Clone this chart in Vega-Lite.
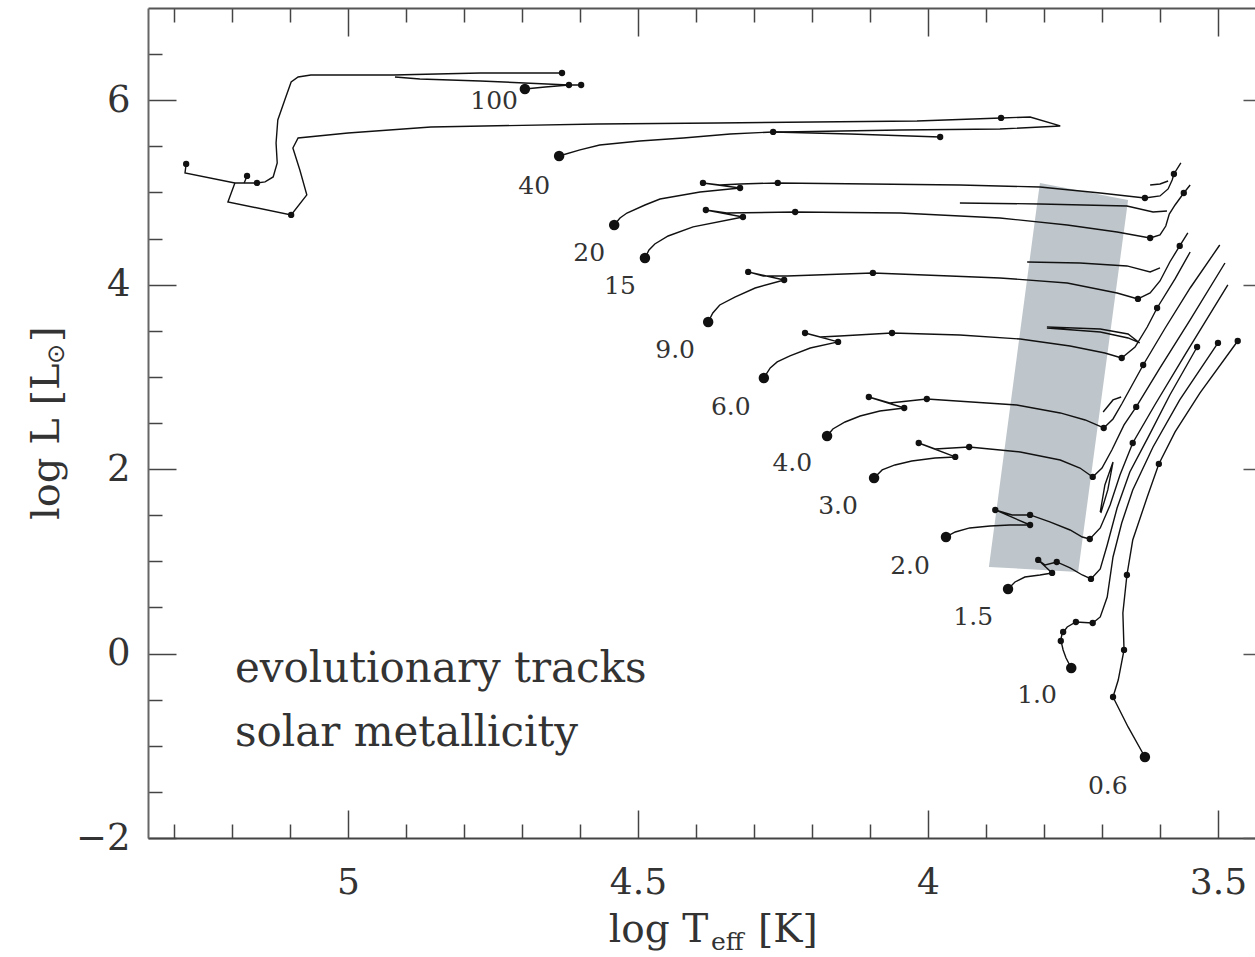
{
"$schema":"https://vega.github.io/schema/vega-lite/v6.json",
"width":1107,"height":830,
"autosize":{"type":"none"},
"padding":{"left":148,"top":8,"right":0,"bottom":119},
"background":"white",
"config":{"view":{"stroke":null},"axis":{"grid":false}},
"datasets":{
"band":[{"y":5.103,"xl":3.807,"xr":3.807},{"y":4.918,"xl":3.811,"xr":3.655},{"y":0.939,"xl":3.895,"xr":3.74},{"y":0.884,"xl":3.741,"xr":3.741}],
"tracks":[
{"s":"a","i":0,"x":4.695,"y":6.122},{"s":"a","i":1,"x":4.66,"y":6.144},{"s":"a","i":2,"x":4.619,"y":6.165},{"s":"a","i":3,"x":4.598,"y":6.165},
{"s":"b","i":0,"x":4.619,"y":6.165},{"s":"b","i":1,"x":4.772,"y":6.209},{"s":"b","i":2,"x":4.876,"y":6.23},{"s":"b","i":3,"x":4.919,"y":6.252},
{"s":"c","i":0,"x":4.631,"y":6.295},{"s":"c","i":1,"x":4.772,"y":6.295},{"s":"c","i":2,"x":4.922,"y":6.274},{"s":"c","i":3,"x":5.014,"y":6.274},{"s":"c","i":4,"x":5.064,"y":6.274},{"s":"c","i":5,"x":5.086,"y":6.252},{"s":"c","i":6,"x":5.098,"y":6.198},{"s":"c","i":7,"x":5.109,"y":6.003},{"s":"c","i":8,"x":5.121,"y":5.786},{"s":"c","i":9,"x":5.124,"y":5.536},{"s":"c","i":10,"x":5.122,"y":5.32},{"s":"c","i":11,"x":5.129,"y":5.168},{"s":"c","i":12,"x":5.143,"y":5.114},{"s":"c","i":13,"x":5.157,"y":5.103},
{"s":"d","i":0,"x":5.157,"y":5.103},{"s":"d","i":1,"x":5.195,"y":5.103},{"s":"d","i":2,"x":5.281,"y":5.211},{"s":"d","i":3,"x":5.279,"y":5.309},
{"s":"e","i":0,"x":5.174,"y":5.179},{"s":"e","i":1,"x":5.179,"y":5.103},
{"s":"f","i":0,"x":5.195,"y":5.103},{"s":"f","i":1,"x":5.207,"y":4.897},{"s":"f","i":2,"x":5.098,"y":4.756},{"s":"f","i":3,"x":5.071,"y":4.973},{"s":"f","i":4,"x":5.083,"y":5.244},{"s":"f","i":5,"x":5.095,"y":5.482},{"s":"f","i":6,"x":5.086,"y":5.591},{"s":"f","i":7,"x":5.0,"y":5.645},{"s":"f","i":8,"x":4.857,"y":5.71},{"s":"f","i":9,"x":4.569,"y":5.742},{"s":"f","i":10,"x":4.364,"y":5.753},{"s":"f","i":11,"x":4.019,"y":5.775},{"s":"f","i":12,"x":3.874,"y":5.808},{"s":"f","i":13,"x":3.824,"y":5.818},{"s":"f","i":14,"x":3.772,"y":5.721},{"s":"f","i":15,"x":3.876,"y":5.688},{"s":"f","i":16,"x":4.048,"y":5.677},{"s":"f","i":17,"x":4.25,"y":5.656},{"s":"f","i":18,"x":4.267,"y":5.656},
{"s":"g","i":0,"x":4.636,"y":5.395},{"s":"g","i":1,"x":4.6,"y":5.461},{"s":"g","i":2,"x":4.566,"y":5.515},{"s":"g","i":3,"x":4.497,"y":5.558},{"s":"g","i":4,"x":4.422,"y":5.591},{"s":"g","i":5,"x":4.341,"y":5.634},{"s":"g","i":6,"x":4.267,"y":5.656},
{"s":"h","i":0,"x":4.267,"y":5.656},{"s":"h","i":1,"x":4.134,"y":5.634},{"s":"h","i":2,"x":3.979,"y":5.601},
{"s":"20a","i":0,"x":4.541,"y":4.647},{"s":"20a","i":1,"x":4.531,"y":4.723},{"s":"20a","i":2,"x":4.519,"y":4.777},{"s":"20a","i":3,"x":4.488,"y":4.864},{"s":"20a","i":4,"x":4.462,"y":4.929},{"s":"20a","i":5,"x":4.393,"y":5.005},{"s":"20a","i":6,"x":4.324,"y":5.048},
{"s":"20b","i":0,"x":4.324,"y":5.048},{"s":"20b","i":1,"x":4.388,"y":5.103},{"s":"20b","i":2,"x":4.359,"y":5.081},{"s":"20b","i":3,"x":4.324,"y":5.092},{"s":"20b","i":4,"x":4.259,"y":5.103},{"s":"20b","i":5,"x":4.1,"y":5.092},{"s":"20b","i":6,"x":3.945,"y":5.081},{"s":"20b","i":7,"x":3.807,"y":5.059},{"s":"20b","i":8,"x":3.703,"y":4.994},{"s":"20b","i":9,"x":3.626,"y":4.94},
{"s":"20c","i":0,"x":3.626,"y":4.94},{"s":"20c","i":1,"x":3.6,"y":4.962},{"s":"20c","i":2,"x":3.586,"y":5.038},{"s":"20c","i":3,"x":3.579,"y":5.135},{"s":"20c","i":4,"x":3.576,"y":5.2},{"s":"20c","i":5,"x":3.564,"y":5.32},
{"s":"20d","i":0,"x":3.617,"y":5.081},{"s":"20d","i":1,"x":3.6,"y":5.092},{"s":"20d","i":2,"x":3.586,"y":5.124},
{"s":"15a","i":0,"x":4.488,"y":4.289},{"s":"15a","i":1,"x":4.481,"y":4.376},{"s":"15a","i":2,"x":4.471,"y":4.441},{"s":"15a","i":3,"x":4.448,"y":4.528},{"s":"15a","i":4,"x":4.405,"y":4.626},{"s":"15a","i":5,"x":4.319,"y":4.734},
{"s":"15b","i":0,"x":4.319,"y":4.734},{"s":"15b","i":1,"x":4.383,"y":4.81},{"s":"15b","i":2,"x":4.347,"y":4.777},{"s":"15b","i":3,"x":4.229,"y":4.788},{"s":"15b","i":4,"x":4.048,"y":4.777},{"s":"15b","i":5,"x":3.876,"y":4.723},{"s":"15b","i":6,"x":3.76,"y":4.647},{"s":"15b","i":7,"x":3.674,"y":4.571},{"s":"15b","i":8,"x":3.617,"y":4.506},
{"s":"15c","i":0,"x":3.617,"y":4.506},{"s":"15c","i":1,"x":3.6,"y":4.539},{"s":"15c","i":2,"x":3.59,"y":4.636},{"s":"15c","i":3,"x":3.584,"y":4.766},{"s":"15c","i":4,"x":3.574,"y":4.864},{"s":"15c","i":5,"x":3.559,"y":4.994},{"s":"15c","i":6,"x":3.548,"y":5.081},
{"s":"15d","i":0,"x":3.945,"y":4.886},{"s":"15d","i":1,"x":3.807,"y":4.875},{"s":"15d","i":2,"x":3.657,"y":4.853},{"s":"15d","i":3,"x":3.612,"y":4.788},{"s":"15d","i":4,"x":3.588,"y":4.799},
{"s":"9a","i":0,"x":4.379,"y":3.595},{"s":"9a","i":1,"x":4.371,"y":3.693},{"s":"9a","i":2,"x":4.359,"y":3.78},{"s":"9a","i":3,"x":4.333,"y":3.866},{"s":"9a","i":4,"x":4.298,"y":3.964},{"s":"9a","i":5,"x":4.248,"y":4.051},
{"s":"9b","i":0,"x":4.248,"y":4.051},{"s":"9b","i":1,"x":4.31,"y":4.138},{"s":"9b","i":2,"x":4.284,"y":4.094},{"s":"9b","i":3,"x":4.243,"y":4.094},{"s":"9b","i":4,"x":4.095,"y":4.127},{"s":"9b","i":5,"x":3.962,"y":4.094},{"s":"9b","i":6,"x":3.876,"y":4.073},{"s":"9b","i":7,"x":3.76,"y":4.018},{"s":"9b","i":8,"x":3.674,"y":3.91},{"s":"9b","i":9,"x":3.638,"y":3.845},
{"s":"9c","i":0,"x":3.638,"y":3.845},{"s":"9c","i":1,"x":3.617,"y":3.91},{"s":"9c","i":2,"x":3.6,"y":4.04},{"s":"9c","i":3,"x":3.583,"y":4.246},{"s":"9c","i":4,"x":3.566,"y":4.42},{"s":"9c","i":5,"x":3.552,"y":4.561},
{"s":"9d","i":0,"x":3.829,"y":4.246},{"s":"9d","i":1,"x":3.738,"y":4.235},{"s":"9d","i":2,"x":3.657,"y":4.203},{"s":"9d","i":3,"x":3.617,"y":4.138},{"s":"9d","i":4,"x":3.6,"y":4.181},
{"s":"6a","i":0,"x":4.283,"y":2.988},{"s":"6a","i":1,"x":4.272,"y":3.097},{"s":"6a","i":2,"x":4.26,"y":3.162},{"s":"6a","i":3,"x":4.238,"y":3.227},{"s":"6a","i":4,"x":4.203,"y":3.313},{"s":"6a","i":5,"x":4.155,"y":3.379},
{"s":"6b","i":0,"x":4.155,"y":3.379},{"s":"6b","i":1,"x":4.212,"y":3.476},{"s":"6b","i":2,"x":4.186,"y":3.433},{"s":"6b","i":3,"x":4.152,"y":3.444},{"s":"6b","i":4,"x":4.062,"y":3.476},{"s":"6b","i":5,"x":3.945,"y":3.454},{"s":"6b","i":6,"x":3.841,"y":3.411},{"s":"6b","i":7,"x":3.755,"y":3.335},{"s":"6b","i":8,"x":3.695,"y":3.259},{"s":"6b","i":9,"x":3.666,"y":3.205},
{"s":"6c","i":0,"x":3.666,"y":3.205},{"s":"6c","i":1,"x":3.643,"y":3.324},{"s":"6c","i":2,"x":3.622,"y":3.541},{"s":"6c","i":3,"x":3.605,"y":3.747},{"s":"6c","i":4,"x":3.574,"y":4.062},{"s":"6c","i":5,"x":3.548,"y":4.354},
{"s":"6d","i":0,"x":3.795,"y":3.541},{"s":"6d","i":1,"x":3.703,"y":3.519},{"s":"6d","i":2,"x":3.655,"y":3.465},{"s":"6d","i":3,"x":3.635,"y":3.368},{"s":"6d","i":4,"x":3.655,"y":3.422},{"s":"6d","i":5,"x":3.703,"y":3.487},{"s":"6d","i":6,"x":3.795,"y":3.53},
{"s":"4a","i":0,"x":4.174,"y":2.359},{"s":"4a","i":1,"x":4.164,"y":2.435},{"s":"4a","i":2,"x":4.143,"y":2.511},{"s":"4a","i":3,"x":4.117,"y":2.576},{"s":"4a","i":4,"x":4.083,"y":2.63},{"s":"4a","i":5,"x":4.041,"y":2.663},
{"s":"4b","i":0,"x":4.041,"y":2.663},{"s":"4b","i":1,"x":4.102,"y":2.782},{"s":"4b","i":2,"x":4.066,"y":2.717},{"s":"4b","i":3,"x":4.002,"y":2.76},{"s":"4b","i":4,"x":3.847,"y":2.695},{"s":"4b","i":5,"x":3.772,"y":2.609},{"s":"4b","i":6,"x":3.729,"y":2.533},{"s":"4b","i":7,"x":3.697,"y":2.446},
{"s":"4c","i":0,"x":3.697,"y":2.446},{"s":"4c","i":1,"x":3.681,"y":2.544},{"s":"4c","i":2,"x":3.666,"y":2.706},{"s":"4c","i":3,"x":3.648,"y":2.912},{"s":"4c","i":4,"x":3.629,"y":3.129},{"s":"4c","i":5,"x":3.591,"y":3.53},{"s":"4c","i":6,"x":3.548,"y":3.964},{"s":"4c","i":7,"x":3.497,"y":4.43},
{"s":"4d","i":0,"x":3.698,"y":2.619},{"s":"4d","i":1,"x":3.681,"y":2.75},{"s":"4d","i":2,"x":3.667,"y":2.782},
{"s":"3a","i":0,"x":4.093,"y":1.904},{"s":"3a","i":1,"x":4.079,"y":1.991},{"s":"3a","i":2,"x":4.057,"y":2.045},{"s":"3a","i":3,"x":4.028,"y":2.088},{"s":"3a","i":4,"x":3.988,"y":2.121},{"s":"3a","i":5,"x":3.953,"y":2.132},
{"s":"3b","i":0,"x":3.953,"y":2.132},{"s":"3b","i":1,"x":4.016,"y":2.283},{"s":"3b","i":2,"x":3.988,"y":2.218},{"s":"3b","i":3,"x":3.929,"y":2.24},{"s":"3b","i":4,"x":3.841,"y":2.186},{"s":"3b","i":5,"x":3.772,"y":2.099},{"s":"3b","i":6,"x":3.738,"y":2.012},{"s":"3b","i":7,"x":3.716,"y":1.915},
{"s":"3c","i":0,"x":3.716,"y":1.915},{"s":"3c","i":1,"x":3.7,"y":2.012},{"s":"3c","i":2,"x":3.683,"y":2.207},{"s":"3c","i":3,"x":3.662,"y":2.479},{"s":"3c","i":4,"x":3.641,"y":2.674},{"s":"3c","i":5,"x":3.6,"y":3.097},{"s":"3c","i":6,"x":3.548,"y":3.617},{"s":"3c","i":7,"x":3.488,"y":4.235},
{"s":"3d","i":0,"x":3.703,"y":1.535},{"s":"3d","i":1,"x":3.695,"y":1.828},{"s":"3d","i":2,"x":3.681,"y":2.077},{"s":"3d","i":3,"x":3.69,"y":1.774},{"s":"3d","i":4,"x":3.702,"y":1.524},
{"s":"2a","i":0,"x":3.969,"y":1.264},{"s":"2a","i":1,"x":3.953,"y":1.318},{"s":"2a","i":2,"x":3.928,"y":1.362},{"s":"2a","i":3,"x":3.893,"y":1.383},{"s":"2a","i":4,"x":3.859,"y":1.394},{"s":"2a","i":5,"x":3.824,"y":1.394},
{"s":"2b","i":0,"x":3.824,"y":1.394},{"s":"2b","i":1,"x":3.884,"y":1.557},{"s":"2b","i":2,"x":3.855,"y":1.503},{"s":"2b","i":3,"x":3.824,"y":1.503},{"s":"2b","i":4,"x":3.79,"y":1.427},{"s":"2b","i":5,"x":3.755,"y":1.34},{"s":"2b","i":6,"x":3.734,"y":1.264},{"s":"2b","i":7,"x":3.721,"y":1.242},
{"s":"2c","i":0,"x":3.721,"y":1.242},{"s":"2c","i":1,"x":3.703,"y":1.362},{"s":"2c","i":2,"x":3.686,"y":1.611},{"s":"2c","i":3,"x":3.669,"y":1.936},{"s":"2c","i":4,"x":3.647,"y":2.283},{"s":"2c","i":5,"x":3.609,"y":2.695},{"s":"2c","i":6,"x":3.557,"y":3.238},{"s":"2c","i":7,"x":3.483,"y":3.997},
{"s":"p15a","i":0,"x":3.862,"y":0.7},{"s":"p15a","i":1,"x":3.85,"y":0.776},{"s":"p15a","i":2,"x":3.833,"y":0.83},{"s":"p15a","i":3,"x":3.807,"y":0.852},{"s":"p15a","i":4,"x":3.786,"y":0.874},
{"s":"p15b","i":0,"x":3.786,"y":0.874},{"s":"p15b","i":1,"x":3.81,"y":1.015},{"s":"p15b","i":2,"x":3.798,"y":0.96},{"s":"p15b","i":3,"x":3.778,"y":0.993},{"s":"p15b","i":4,"x":3.755,"y":0.928},{"s":"p15b","i":5,"x":3.734,"y":0.852},{"s":"p15b","i":6,"x":3.719,"y":0.809},
{"s":"p15c","i":0,"x":3.719,"y":0.809},{"s":"p15c","i":1,"x":3.703,"y":0.917},{"s":"p15c","i":2,"x":3.691,"y":1.177},{"s":"p15c","i":3,"x":3.674,"y":1.578},{"s":"p15c","i":4,"x":3.652,"y":1.969},{"s":"p15c","i":5,"x":3.621,"y":2.338},{"s":"p15c","i":6,"x":3.583,"y":2.804},{"s":"p15c","i":7,"x":3.536,"y":3.324},
{"s":"p10","i":0,"x":3.753,"y":-0.157},{"s":"p10","i":1,"x":3.762,"y":-0.048},{"s":"p10","i":2,"x":3.767,"y":0.039},{"s":"p10","i":3,"x":3.771,"y":0.147},{"s":"p10","i":4,"x":3.769,"y":0.212},{"s":"p10","i":5,"x":3.76,"y":0.288},{"s":"p10","i":6,"x":3.745,"y":0.342},{"s":"p10","i":7,"x":3.716,"y":0.331},{"s":"p10","i":8,"x":3.703,"y":0.397},{"s":"p10","i":9,"x":3.691,"y":0.613},{"s":"p10","i":10,"x":3.681,"y":1.047},{"s":"p10","i":11,"x":3.666,"y":1.416},{"s":"p10","i":12,"x":3.647,"y":1.774},{"s":"p10","i":13,"x":3.612,"y":2.24},{"s":"p10","i":14,"x":3.566,"y":2.75},{"s":"p10","i":15,"x":3.5,"y":3.368},
{"s":"p06","i":0,"x":3.626,"y":-1.122},{"s":"p06","i":1,"x":3.655,"y":-0.796},{"s":"p06","i":2,"x":3.681,"y":-0.471},{"s":"p06","i":3,"x":3.672,"y":-0.287},{"s":"p06","i":4,"x":3.662,"y":0.039},{"s":"p06","i":5,"x":3.664,"y":0.44},{"s":"p06","i":6,"x":3.657,"y":0.852},{"s":"p06","i":7,"x":3.647,"y":1.231},{"s":"p06","i":8,"x":3.622,"y":1.698},{"s":"p06","i":9,"x":3.602,"y":2.056},{"s":"p06","i":10,"x":3.574,"y":2.403},{"s":"p06","i":11,"x":3.531,"y":2.826},{"s":"p06","i":12,"x":3.466,"y":3.389}
],
"dots":[
{"x":4.695,"y":6.122,"k":"b"},{"x":4.636,"y":5.395,"k":"b"},{"x":4.541,"y":4.647,"k":"b"},{"x":4.488,"y":4.289,"k":"b"},{"x":4.379,"y":3.595,"k":"b"},{"x":4.283,"y":2.988,"k":"b"},{"x":4.174,"y":2.359,"k":"b"},{"x":4.093,"y":1.904,"k":"b"},{"x":3.969,"y":1.264,"k":"b"},{"x":3.862,"y":0.7,"k":"b"},{"x":3.753,"y":-0.157,"k":"b"},{"x":3.626,"y":-1.122,"k":"b"},
{"x":4.619,"y":6.165,"k":"s"},{"x":4.598,"y":6.165,"k":"s"},{"x":4.631,"y":6.295,"k":"s"},
{"x":5.279,"y":5.309,"k":"s"},{"x":5.174,"y":5.179,"k":"s"},{"x":5.157,"y":5.103,"k":"s"},{"x":5.098,"y":4.756,"k":"s"},
{"x":3.874,"y":5.808,"k":"s"},{"x":4.267,"y":5.656,"k":"s"},{"x":3.979,"y":5.601,"k":"s"},
{"x":4.324,"y":5.048,"k":"s"},{"x":4.388,"y":5.103,"k":"s"},{"x":4.259,"y":5.103,"k":"s"},{"x":3.626,"y":4.94,"k":"s"},{"x":3.576,"y":5.2,"k":"s"},
{"x":4.319,"y":4.734,"k":"s"},{"x":4.383,"y":4.81,"k":"s"},{"x":4.229,"y":4.788,"k":"s"},{"x":3.617,"y":4.506,"k":"s"},{"x":3.559,"y":4.994,"k":"s"},
{"x":4.248,"y":4.051,"k":"s"},{"x":4.31,"y":4.138,"k":"s"},{"x":4.095,"y":4.127,"k":"s"},{"x":3.638,"y":3.845,"k":"s"},{"x":3.566,"y":4.42,"k":"s"},
{"x":4.155,"y":3.379,"k":"s"},{"x":4.212,"y":3.476,"k":"s"},{"x":4.062,"y":3.476,"k":"s"},{"x":3.666,"y":3.205,"k":"s"},{"x":3.605,"y":3.747,"k":"s"},
{"x":4.041,"y":2.663,"k":"s"},{"x":4.102,"y":2.782,"k":"s"},{"x":4.002,"y":2.76,"k":"s"},{"x":3.697,"y":2.446,"k":"s"},{"x":3.629,"y":3.129,"k":"s"},
{"x":3.953,"y":2.132,"k":"s"},{"x":4.016,"y":2.283,"k":"s"},{"x":3.929,"y":2.24,"k":"s"},{"x":3.716,"y":1.915,"k":"s"},{"x":3.641,"y":2.674,"k":"s"},
{"x":3.824,"y":1.394,"k":"s"},{"x":3.884,"y":1.557,"k":"s"},{"x":3.824,"y":1.503,"k":"s"},{"x":3.721,"y":1.242,"k":"s"},{"x":3.647,"y":2.283,"k":"s"},
{"x":3.786,"y":0.874,"k":"s"},{"x":3.81,"y":1.015,"k":"s"},{"x":3.778,"y":0.993,"k":"s"},{"x":3.719,"y":0.809,"k":"s"},{"x":3.536,"y":3.324,"k":"s"},
{"x":3.771,"y":0.136,"k":"s"},{"x":3.767,"y":0.234,"k":"s"},{"x":3.745,"y":0.342,"k":"s"},{"x":3.716,"y":0.331,"k":"s"},{"x":3.5,"y":3.368,"k":"s"},
{"x":3.681,"y":-0.471,"k":"s"},{"x":3.662,"y":0.039,"k":"s"},{"x":3.657,"y":0.852,"k":"s"},{"x":3.602,"y":2.056,"k":"s"},{"x":3.466,"y":3.389,"k":"s"}
],
"masses":[
{"x":4.748,"y":5.992,"t":"100"},{"x":4.679,"y":5.07,"t":"40"},{"x":4.584,"y":4.344,"t":"20"},{"x":4.531,"y":3.986,"t":"15"},{"x":4.436,"y":3.292,"t":"9.0"},{"x":4.34,"y":2.674,"t":"6.0"},{"x":4.234,"y":2.066,"t":"4.0"},{"x":4.155,"y":1.6,"t":"3.0"},{"x":4.031,"y":0.95,"t":"2.0"},{"x":3.922,"y":0.397,"t":"1.5"},{"x":3.812,"y":-0.449,"t":"1.0"},{"x":3.69,"y":-1.436,"t":"0.6"}
],
"note":[{"x":5.195,"y":-0.308,"t":"evolutionary tracks"},{"x":5.195,"y":-1.002,"t":"solar metallicity"}],
"xt1":[{"x":4.379,"y":-3.128,"t":"log T"}],
"xt2":[{"x":4.374,"y":-3.214,"t":"eff"}],
"xt3":[{"x":4.293,"y":-3.128,"t":"[K]"}],
"yt1":[{"x":5.498,"y":1.448,"t":"log L [L"}],
"yt2":[{"x":5.49,"y":3.14,"t":"⊙"}],
"yt3":[{"x":5.498,"y":3.379,"t":"]"}]
},
"layer":[
{"data":{"name":"band"},"mark":{"type":"area","orient":"horizontal","color":"#bfc6cb","opacity":1},
 "encoding":{
  "y":{"field":"y","type":"quantitative","scale":{"domain":[-2,7],"nice":false,"zero":false},
   "axis":{"orient":"left","values":[-2,-1.5,-1,-0.5,0,0.5,1,1.5,2,2.5,3,3.5,4,4.5,5,5.5,6,6.5],
    "tickSize":{"condition":{"test":"abs(datum.value/2-round(datum.value/2))<0.01","value":-28},"value":-14},
    "labelExpr":"abs(datum.value/2-round(datum.value/2))<0.01 ? format(datum.value,'d') : ''",
    "labelFont":"DejaVu Serif","labelFontSize":37,"labelColor":"#333","labelPadding":46,"labelOverlap":false,"labelFlush":false,"labelBound":false,
    "title":null,"domain":true,"domainColor":"#666","domainWidth":2,"tickColor":"#444","tickWidth":1.5,"grid":false}},
  "x":{"field":"xl","type":"quantitative","scale":{"domain":[3.4362,5.3448],"reverse":true,"nice":false,"zero":false},
   "axis":{"orient":"bottom","values":[3.5,3.6,3.7,3.8,3.9,4,4.1,4.2,4.3,4.4,4.5,4.6,4.7,4.8,4.9,5,5.1,5.2,5.3],
    "tickSize":{"condition":{"test":"abs(datum.value*2-round(datum.value*2))<0.01","value":-28},"value":-14},
    "labelExpr":"abs(datum.value*2-round(datum.value*2))<0.01 ? format(datum.value,'.1~f') : ''",
    "labelFont":"DejaVu Serif","labelFontSize":36,"labelColor":"#333","labelPadding":55,"labelOverlap":false,"labelFlush":false,"labelBound":false,
    "title":null,"domain":true,"domainColor":"#444","domainWidth":2,"tickColor":"#444","tickWidth":1.5,"grid":false}},
  "x2":{"field":"xr"}}},
{"data":{"name":"tracks"},"mark":{"type":"line","color":"#111","strokeWidth":1.4},
 "encoding":{
  "x":{"field":"x","type":"quantitative","scale":{"domain":[3.4362,5.3448],"reverse":true,"nice":false,"zero":false},
   "axis":{"orient":"top","values":[3.5,3.6,3.7,3.8,3.9,4,4.1,4.2,4.3,4.4,4.5,4.6,4.7,4.8,4.9,5,5.1,5.2,5.3],
    "tickSize":{"condition":{"test":"abs(datum.value*2-round(datum.value*2))<0.01","value":-28},"value":-14},
    "labels":false,"title":null,"domain":true,"domainColor":"#555","domainWidth":2,"tickColor":"#444","tickWidth":1.5,"grid":false}},
  "y":{"field":"y","type":"quantitative","scale":{"domain":[-2,7],"nice":false,"zero":false},
   "axis":{"orient":"right","offset":16,"values":[-2,-1.5,-1,-0.5,0,0.5,1,1.5,2,2.5,3,3.5,4,4.5,5,5.5,6,6.5],
    "tickSize":{"condition":{"test":"abs(datum.value/2-round(datum.value/2))<0.01","value":-28},"value":-14},
    "labels":false,"title":null,"domain":false,"tickColor":"#555","tickWidth":1.5,"grid":false}},
  "detail":{"field":"s","type":"nominal"},
  "order":{"field":"i","type":"quantitative"}}},
{"data":{"name":"dots"},"mark":{"type":"point","filled":true,"color":"#111","opacity":1},
 "encoding":{
  "x":{"field":"x","type":"quantitative","scale":{"domain":[3.4362,5.3448],"reverse":true,"nice":false,"zero":false},"axis":null},
  "y":{"field":"y","type":"quantitative","scale":{"domain":[-2,7],"nice":false,"zero":false},"axis":null},
  "size":{"field":"k","type":"ordinal","scale":{"domain":["s","b"],"range":[40,110]},"legend":null}}},
{"data":{"name":"masses"},"mark":{"type":"text","font":"DejaVu Serif","fontSize":25,"color":"#333","align":"center","baseline":"middle"},
 "encoding":{
  "x":{"field":"x","type":"quantitative","scale":{"domain":[3.4362,5.3448],"reverse":true,"nice":false,"zero":false},"axis":null},
  "y":{"field":"y","type":"quantitative","scale":{"domain":[-2,7],"nice":false,"zero":false},"axis":null},
  "text":{"field":"t"}}},
{"data":{"name":"note"},"mark":{"type":"text","font":"DejaVu Serif","fontSize":42,"color":"#333","align":"left","baseline":"alphabetic"},
 "encoding":{
  "x":{"field":"x","type":"quantitative","scale":{"domain":[3.4362,5.3448],"reverse":true,"nice":false,"zero":false},"axis":null},
  "y":{"field":"y","type":"quantitative","scale":{"domain":[-2,7],"nice":false,"zero":false},"axis":null},
  "text":{"field":"t"}}},
{"data":{"name":"xt1"},"mark":{"type":"text","font":"DejaVu Serif","fontSize":39,"color":"#333","align":"right","baseline":"alphabetic"},
 "encoding":{
  "x":{"field":"x","type":"quantitative","scale":{"domain":[3.4362,5.3448],"reverse":true,"nice":false,"zero":false},"axis":null},
  "y":{"field":"y","type":"quantitative","scale":{"domain":[-2,7],"nice":false,"zero":false},"axis":null},
  "text":{"field":"t"}}},
{"data":{"name":"xt2"},"mark":{"type":"text","font":"DejaVu Serif","fontSize":25,"color":"#333","align":"left","baseline":"alphabetic"},
 "encoding":{
  "x":{"field":"x","type":"quantitative","scale":{"domain":[3.4362,5.3448],"reverse":true,"nice":false,"zero":false},"axis":null},
  "y":{"field":"y","type":"quantitative","scale":{"domain":[-2,7],"nice":false,"zero":false},"axis":null},
  "text":{"field":"t"}}},
{"data":{"name":"xt3"},"mark":{"type":"text","font":"DejaVu Serif","fontSize":39,"color":"#333","align":"left","baseline":"alphabetic"},
 "encoding":{
  "x":{"field":"x","type":"quantitative","scale":{"domain":[3.4362,5.3448],"reverse":true,"nice":false,"zero":false},"axis":null},
  "y":{"field":"y","type":"quantitative","scale":{"domain":[-2,7],"nice":false,"zero":false},"axis":null},
  "text":{"field":"t"}}},
{"data":{"name":"yt1"},"mark":{"type":"text","font":"DejaVu Serif","fontSize":40,"color":"#333","align":"left","baseline":"alphabetic","angle":270},
 "encoding":{
  "x":{"field":"x","type":"quantitative","scale":{"domain":[3.4362,5.3448],"reverse":true,"nice":false,"zero":false},"axis":null},
  "y":{"field":"y","type":"quantitative","scale":{"domain":[-2,7],"nice":false,"zero":false},"axis":null},
  "text":{"field":"t"}}},
{"data":{"name":"yt2"},"mark":{"type":"text","font":"DejaVu Sans","fontSize":24,"color":"#333","align":"left","baseline":"alphabetic","angle":270},
 "encoding":{
  "x":{"field":"x","type":"quantitative","scale":{"domain":[3.4362,5.3448],"reverse":true,"nice":false,"zero":false},"axis":null},
  "y":{"field":"y","type":"quantitative","scale":{"domain":[-2,7],"nice":false,"zero":false},"axis":null},
  "text":{"field":"t"}}},
{"data":{"name":"yt3"},"mark":{"type":"text","font":"DejaVu Serif","fontSize":40,"color":"#333","align":"left","baseline":"alphabetic","angle":270},
 "encoding":{
  "x":{"field":"x","type":"quantitative","scale":{"domain":[3.4362,5.3448],"reverse":true,"nice":false,"zero":false},"axis":null},
  "y":{"field":"y","type":"quantitative","scale":{"domain":[-2,7],"nice":false,"zero":false},"axis":null},
  "text":{"field":"t"}}}
],
"resolve":{"axis":{"x":"independent","y":"independent"}}
}
